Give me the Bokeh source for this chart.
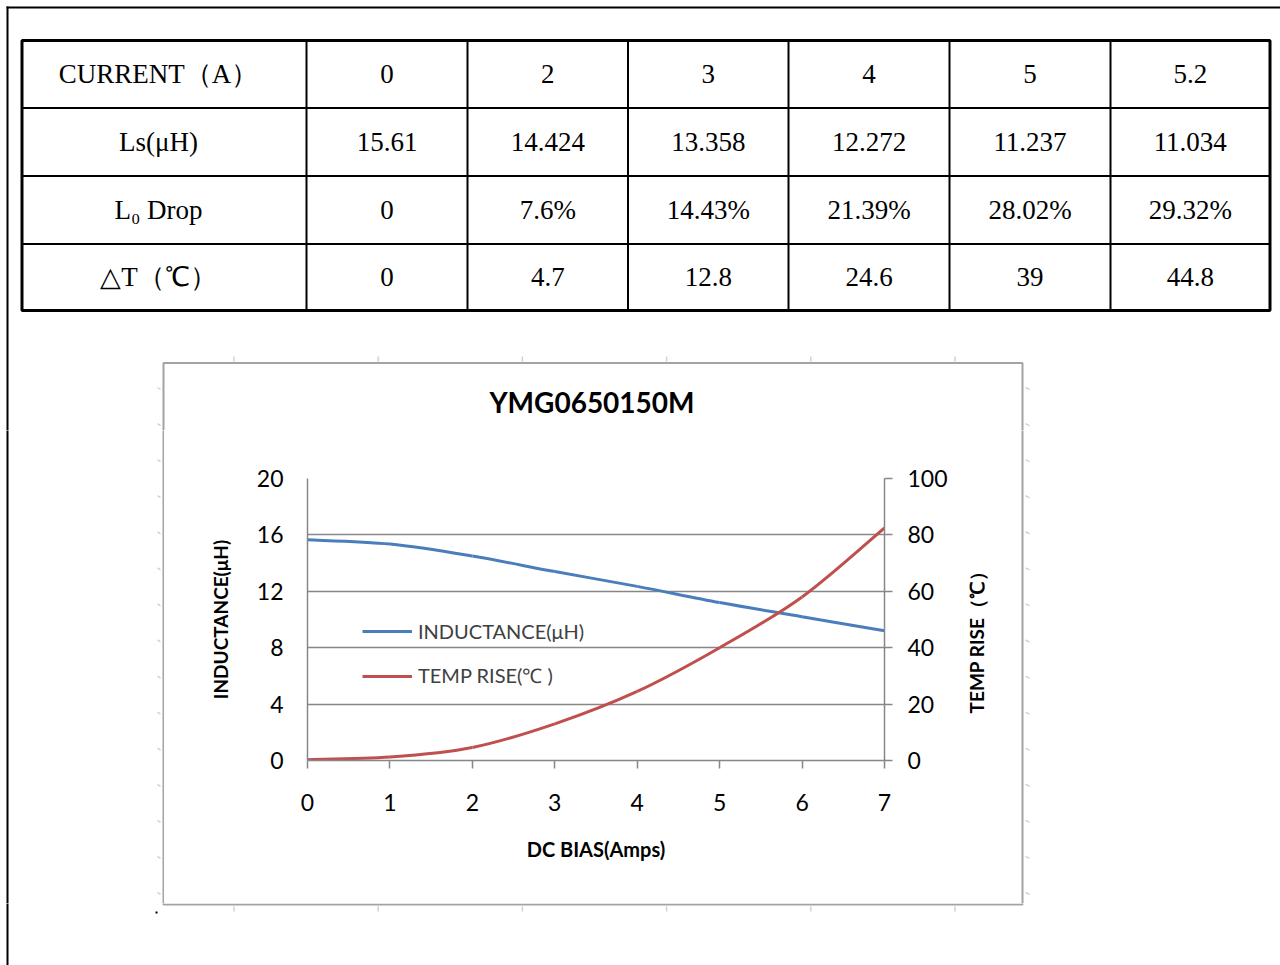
from bokeh.core.properties import value
from bokeh.embed import file_html
from bokeh.layouts import column, row
from bokeh.models import (ColumnDataSource, FixedTicker, Legend, LegendItem,
                          LinearAxis, Range1d)
from bokeh.plotting import figure
from bokeh.resources import INLINE
from math import pi

# ------------------------------------------------------------------ data
table_row_labels = ["CURRENT（A）", "Ls(μH)", "L₀ Drop", "△T（℃）"]
table_current = ["0", "2", "3", "4", "5", "5.2"]
table_ls = ["15.61", "14.424", "13.358", "12.272", "11.237", "11.034"]
table_drop = ["0", "7.6%", "14.43%", "21.39%", "28.02%", "29.32%"]
table_dt = ["0", "4.7", "12.8", "24.6", "39", "44.8"]

chart_title = "YMG0650150M"
bias_amps = [0, 1, 2, 3, 4, 5, 6, 7]
inductance_uh = [15.65, 15.35, 14.5, 13.4, 12.35, 11.2, 10.2, 9.2]
temp_rise_c = [0.3, 1.2, 4.6, 13.0, 24.5, 40.0, 58.0, 82.5]

x_ticks = [0, 1, 2, 3, 4, 5, 6, 7]
left_ticks = [0, 4, 8, 12, 16, 20]
right_ticks = [0, 20, 40, 60, 80, 100]

x_label = "DC BIAS(Amps)"
left_label = "INDUCTANCE(μH)"
right_label = "TEMP RISE（℃）"
legend_labels = ["INDUCTANCE(μH)", "TEMP RISE(℃ )"]

# ------------------------------------------------------------------ styles
BLUE = "#4a7ebb"
RED = "#c0504d"
GRID = "#878787"
BOX = "#a3a3a3"
FAINT = "#c9d3e6"
CHART_FONT = "Lato"
TABLE_FONT = "Liberation Serif"

# page layout in picture pixels
PX0, PX1 = 0, 1280
PY0, PY1 = 0, 965
TOP_Y1 = 430          # table strip ends (chart title lives in it)
CH_X0, CH_X1 = 164, 955
CH_Y1 = 903

col_edges = [21.5, 306, 467, 627.5, 788, 949, 1110, 1269.5]
row_edges = [40, 107.5, 175.5, 243.5, 310]
box = dict(left=163, right=1022, top=362.5, bottom=904)


def no_align(f):
    try:
        f.frame_align = False
    except Exception:
        pass
    return f


def filler(x0, x1, y0, y1):
    f = figure(width=int(x1 - x0), height=int(y1 - y0),
               x_range=Range1d(x0, x1), y_range=Range1d(y1, y0),
               x_axis_type=None, y_axis_type=None, min_border=0,
               toolbar_location=None, output_backend="svg",
               outline_line_color=None, background_fill_color="white",
               border_fill_color="white")
    no_align(f)
    # outer black frame (top + left)
    f.segment(x0=[6, 7], y0=[7, 6], x1=[PX1, 7], y1=[7, PY1],
              line_color="black", line_width=2)
    # chart box
    f.quad(left=[box["left"]], right=[box["right"]], top=[box["top"]],
           bottom=[box["bottom"]], fill_color=None, line_color=BOX,
           line_width=2)
    # faint page-ruler ticks around the chart box
    tx = [233.5 + 144.2 * i for i in range(6)]
    f.segment(x0=tx, y0=[356] * 6, x1=tx, y1=[361] * 6,
              line_color=FAINT, line_width=1.5)
    f.segment(x0=tx, y0=[906] * 6, x1=tx, y1=[911] * 6,
              line_color=FAINT, line_width=1.5)
    ty = [387 + 36.07 * i for i in range(15)]
    f.segment(x0=[157] * 15, y0=ty, x1=[160] * 15, y1=[t + 2 for t in ty],
              line_color=FAINT, line_width=1.5)
    f.segment(x0=[1025] * 15, y0=ty, x1=[1029] * 15, y1=[t + 2 for t in ty],
              line_color=FAINT, line_width=1.5)
    f.rect(x=[156], y=[912], width=2, height=2, fill_color="black",
           line_color=None)
    return f


# ------------------------------------------------------------------ table
T = filler(PX0, PX1, PY0, TOP_Y1)
inner_x = col_edges[1:-1]
T.segment(x0=inner_x, y0=[row_edges[0]] * len(inner_x), x1=inner_x,
          y1=[row_edges[-1]] * len(inner_x), line_color="black", line_width=2)
inner_y = row_edges[1:-1]
T.segment(x0=[col_edges[0]] * len(inner_y), y0=inner_y,
          x1=[col_edges[-1]] * len(inner_y), y1=inner_y,
          line_color="black", line_width=2)
T.quad(left=[col_edges[0]], right=[col_edges[-1]], top=[row_edges[0]],
       bottom=[row_edges[-1]], fill_color=None, line_color="black",
       line_width=3)

rows = [table_current, table_ls, table_drop, table_dt]
tx, ty, tt = [], [], []
for r, vals in enumerate(rows):
    yc = (row_edges[r] + row_edges[r + 1]) / 2
    tx.append(158)
    ty.append(yc)
    tt.append(table_row_labels[r])
    for c, v in enumerate(vals):
        tx.append((col_edges[c + 1] + col_edges[c + 2]) / 2)
        ty.append(yc)
        tt.append(v)
T.text(x=tx, y=ty, text=tt, text_font=value(TABLE_FONT),
       text_font_size="27px", text_color="black", text_align="center",
       text_baseline="middle")

# chart title (centered over the chart box)
T.text(x=[591.5], y=[401], text=[chart_title], text_font=value(CHART_FONT),
       text_font_size="28px", text_font_style="bold", text_color="black",
       text_align="center", text_baseline="middle")

# ------------------------------------------------------------------ chart
L = filler(PX0, CH_X0, TOP_Y1, CH_Y1)
R = filler(CH_X1, PX1, TOP_Y1, CH_Y1)
B = filler(PX0, PX1, CH_Y1, PY1)

# right axis title, drawn in the strip right of the chart
R.text(x=[976], y=[637], text=[right_label], angle=pi / 2,
       text_font=value(CHART_FONT), text_font_size="19px",
       text_font_style="bold", text_color="black", text_align="center",
       text_baseline="middle")

C = figure(width=CH_X1 - CH_X0, height=CH_Y1 - TOP_Y1,
           x_range=Range1d(0, 7), y_range=Range1d(0, 20),
           min_border_left=307 - CH_X0, min_border_right=CH_X1 - 884,
           min_border_top=478 - TOP_Y1, min_border_bottom=CH_Y1 - 760,
           toolbar_location=None, output_backend="svg",
           outline_line_color=None, background_fill_color="white",
           border_fill_color="white")
no_align(C)
C.extra_y_ranges = {"temp": Range1d(0, 100)}


def style_axis(ax):
    ax.axis_line_color = GRID
    ax.axis_line_width = 1.5
    ax.major_tick_line_color = GRID
    ax.major_tick_line_width = 1.5
    ax.minor_tick_line_color = None
    ax.major_tick_in = 0
    ax.major_label_text_font = CHART_FONT
    ax.major_label_text_font_size = "23px"
    ax.major_label_text_color = "black"
    ax.axis_label_text_font = CHART_FONT
    ax.axis_label_text_font_size = "19px"
    ax.axis_label_text_font_style = "bold"
    ax.axis_label_text_color = "black"


xa = C.xaxis[0]
style_axis(xa)
xa.ticker = FixedTicker(ticks=x_ticks)
xa.major_tick_out = 8
xa.major_label_standoff = 25
xa.axis_label = x_label
xa.axis_label_text_font_size = "20px"
xa.axis_label_standoff = 23

ya = C.yaxis[0]
style_axis(ya)
ya.ticker = FixedTicker(ticks=left_ticks)
ya.major_tick_out = 0
ya.major_tick_line_color = None
ya.major_label_standoff = 24
ya.axis_label = left_label
ya.axis_label_standoff = 22

ra = LinearAxis(y_range_name="temp", ticker=FixedTicker(ticks=right_ticks))
style_axis(ra)
ra.major_tick_out = 8
ra.major_label_standoff = 15
C.add_layout(ra, "right")

C.xgrid.visible = False
C.ygrid.ticker = FixedTicker(ticks=left_ticks)
C.ygrid.grid_line_color = GRID
C.ygrid.grid_line_width = 1.5


def smooth(xs, ys):
    """Excel-style smoothed line: cubic Bezier pieces through the points."""
    n = len(xs)
    d = dict(x0=[], y0=[], x1=[], y1=[], cx0=[], cy0=[], cx1=[], cy1=[])
    for i in range(n - 1):
        im = max(i - 1, 0)
        ip = min(i + 2, n - 1)
        d["x0"].append(xs[i]); d["y0"].append(ys[i])
        d["x1"].append(xs[i + 1]); d["y1"].append(ys[i + 1])
        d["cx0"].append(xs[i] + (xs[i + 1] - xs[im]) / 6)
        d["cy0"].append(ys[i] + (ys[i + 1] - ys[im]) / 6)
        d["cx1"].append(xs[i + 1] - (xs[ip] - xs[i]) / 6)
        d["cy1"].append(ys[i + 1] - (ys[ip] - ys[i]) / 6)
    return ColumnDataSource(d)


r_ind = C.bezier(x0="x0", y0="y0", x1="x1", y1="y1", cx0="cx0", cy0="cy0",
                 cx1="cx1", cy1="cy1", source=smooth(bias_amps, inductance_uh),
                 line_color=BLUE, line_width=3)
r_tmp = C.bezier(x0="x0", y0="y0", x1="x1", y1="y1", cx0="cx0", cy0="cy0",
                 cx1="cx1", cy1="cy1", source=smooth(bias_amps, temp_rise_c),
                 line_color=RED, line_width=3, y_range_name="temp")

legend = Legend(items=[LegendItem(label=legend_labels[0], renderers=[r_ind]),
                       LegendItem(label=legend_labels[1], renderers=[r_tmp])],
                location=(55, 71), border_line_color=None,
                background_fill_alpha=0, padding=0, margin=0, spacing=19,
                glyph_width=50, glyph_height=24, label_height=24,
                label_standoff=6, label_text_font=CHART_FONT,
                label_text_font_size="20px", label_text_color="#404040")
C.add_layout(legend)

page = column(T, row(L, C, R), B)
open("out.html", "w").write(file_html(page, INLINE))
